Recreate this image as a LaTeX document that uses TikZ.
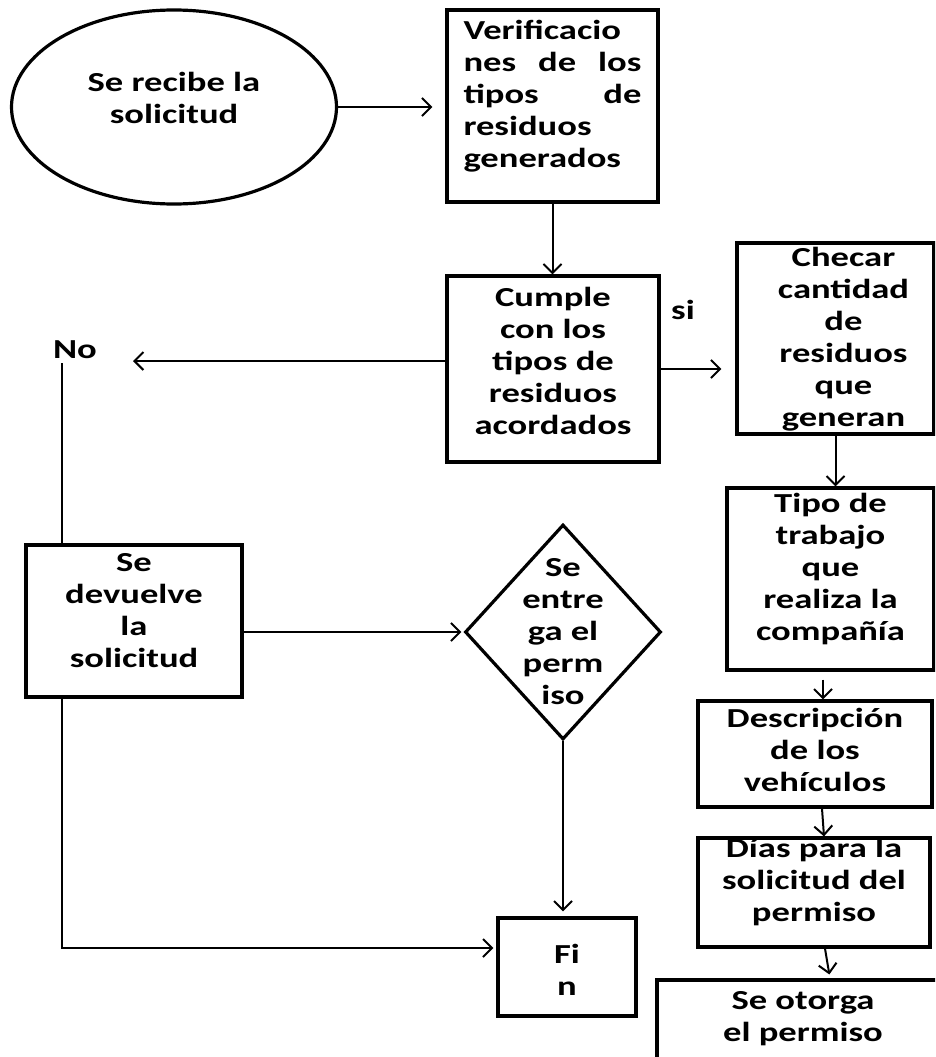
\documentclass[tikz,border=0pt]{standalone}
\usepackage{fontspec}
\setmainfont{Carlito}[FakeStretch=1.33]
\usetikzlibrary{arrows.meta,shapes.geometric}

% text block of a node, raised by #1 (no size of its own)
\newcommand{\flowtext}[2][0pt]{\raisebox{\dimexpr#1-6.75pt\relax}[0pt][0pt]{\makebox[0pt]{\begin{tabular}{@{}c@{}}#2\end{tabular}}}}

\begin{document}
\begin{tikzpicture}[x=1pt,y=-1pt,
  every node/.style={font=\bfseries\fontsize{27.5}{32}\selectfont, inner sep=0pt},
  box/.style={draw, line width=3.2pt},
  flow/.style={line width=2pt, -{Straight Barb[length=9pt,width=18pt]}},
  link/.style={line width=2pt}]
\useasboundingbox (0,0) rectangle (935,1057);
\clip (0,0) rectangle (935,1057);

% left and middle column
\node[box, ellipse, minimum width=325pt, minimum height=194pt] (recibe) at (174,107) {\flowtext[6pt]{Se recibe la\\solicitud}};
\node[box, minimum width=211pt, minimum height=192pt] (verif) at (552.5,106) {\flowtext[9.5pt]{\makebox[178pt][l]{Verificacio}\\\makebox[178pt][s]{nes de los}\\\makebox[178pt][s]{tipos de}\\\makebox[178pt][l]{residuos}\\\makebox[178pt][l]{generados}}};
\node[box, minimum width=212pt, minimum height=186pt] (cumple) at (553,369) {\flowtext[5.5pt]{Cumple\\con los\\tipos de\\residuos\\acordados}};
\node[box, minimum width=216pt, minimum height=152pt] (devuelve) at (134,621) {\flowtext[8.5pt]{Se\\devuelve\\la\\solicitud}};
\node[box, diamond, minimum width=196pt, minimum height=215pt] (entrega) at (563,632) {\flowtext[-2pt]{Se\\entre\\ga el\\perm\\iso}};
\node[box, minimum width=138pt, minimum height=98pt] (fin) at (567,967) {\flowtext[-6pt]{Fi\\n}};
\node (no) at (75,350) {No};
\node (si) at (683,310) {si};

% right column
\node[box, minimum width=197pt, minimum height=191pt] (checar) at (835.5,338.5) {\flowtext[-1pt]{\hspace*{16pt}\begin{tabular}{@{}c@{}}Checar\\cantidad\\de\\residuos\\que\\generan\end{tabular}}};
\node[box, minimum width=207pt, minimum height=182pt] (tipo) at (830.5,579) {\flowtext[9pt]{Tipo de\\trabajo\\que\\realiza la\\compañía}};
\node[box, minimum width=234pt, minimum height=106pt] (desc) at (815,754) {\flowtext[1pt]{Descripción\\de los\\vehículos}};
\node[box, minimum width=232pt, minimum height=109pt] (dias) at (814,892.5) {\flowtext[9.5pt]{Días para la\\solicitud del\\permiso}};
\node[box, minimum width=292pt, minimum height=140pt] (otorga) at (803,1050) {\flowtext[31pt]{Se otorga\\el permiso}};

\coordinate (noend) at (133,361);
\coordinate (rail) at (62,363);

\draw[flow, shorten >=13pt] (recibe.east) -- (recibe.east -| verif.west);
\draw[flow] (verif.south) -- (verif.south |- cumple.north);
\draw[flow, shorten >=14pt] (cumple.east) -- (cumple.east -| checar.west);
\draw[flow] (cumple.west |- noend) -- (noend);
\draw[link] (rail) -- (rail |- devuelve.north);
\draw[flow, shorten >=3pt] (rail |- devuelve.south) |- ([yshift=19pt]fin.west);
\draw[flow, shorten >=2pt] (devuelve.east |- entrega.west) -- (entrega.west);
\draw[flow, shorten >=5pt] (entrega.south) -- (entrega.south |- fin.north);
\draw[flow] (checar.south) -- (checar.south |- tipo.north);
\draw[flow, shorten <=8pt] ([xshift=8pt]desc.north |- tipo.south) -- ([xshift=8pt]desc.north);
\draw[flow] ([xshift=7pt]desc.south) -- ([xshift=10pt]dias.north);
\draw[flow, shorten >=4pt] ([xshift=11pt]dias.south) -- ([xshift=27pt]otorga.north);
\end{tikzpicture}
\end{document}
